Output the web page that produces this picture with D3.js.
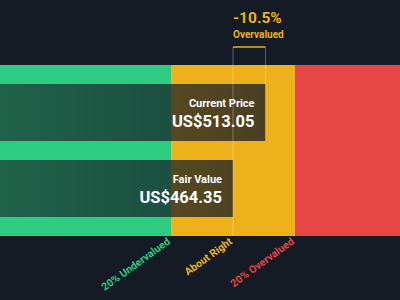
<!DOCTYPE html>
<html>
<head>
<meta charset="utf-8">
<script src="https://cdn.jsdelivr.net/npm/d3@7"></script>
<style>
  html, body { margin: 0; padding: 0; background: #151b24; }
  svg { display: block; font-family: Roboto, "DejaVu Sans", sans-serif; }
</style>
</head>
<body>
<script>
var w = 400;
var h = 300;

var barNames = ["Current Price", "Fair Value"];
var barValues = [513.05, 464.35];
var barLabels = ["US$513.05", "US$464.35"];

var zoneNames = ["20% Undervalued", "About Right", "20% Overvalued"];
var zoneColors = ["#2ecb82", "#edb11c", "#e64646"];
var diffLabel = "-10.5%";
var diffText = "Overvalued";

var fair = barValues[1];
var current = barValues[0];
var zoneEdges = [0, fair * 0.8, fair * 1.2, fair * 2];

var x = d3.scaleLinear().domain([0, fair * 1.2]).range([-77, 295]);
var y = d3.scaleBand().domain(barNames).range([65, 236]).paddingInner(0.25).paddingOuter(0.25);

var svg = d3.select("body")
      .append("svg")
      .attr("width", w)
      .attr("height", h);

var grad = svg.append("defs").append("linearGradient")
   .attr("id", "barGrad")
   .attr("gradientUnits", "userSpaceOnUse")
   .attr("x1", 0).attr("x2", 300).attr("y1", 0).attr("y2", 0);
grad.append("stop").attr("offset", "0%").attr("stop-color", "#151b24").attr("stop-opacity", 0.6);
grad.append("stop").attr("offset", "100%").attr("stop-color", "#151b24").attr("stop-opacity", 0.78);

// zone bands
svg.selectAll("rect.zone")
   .data(zoneColors)
   .enter()
   .append("rect")
   .attr("class", "zone")
   .attr("x", function(d, i) { return Math.max(0, x(zoneEdges[i])); })
   .attr("y", y.range()[0])
   .attr("width", function(d, i) { return Math.min(w, x(zoneEdges[i + 1])) - Math.max(0, x(zoneEdges[i])); })
   .attr("height", y.range()[1] - y.range()[0])
   .attr("fill", function(d) { return d; });

// value bars
svg.selectAll("rect.bar")
   .data(barValues)
   .enter()
   .append("rect")
   .attr("class", "bar")
   .attr("x", 0)
   .attr("y", function(d, i) { return y(barNames[i]); })
   .attr("width", function(d) { return x(d); })
   .attr("height", y.bandwidth())
   .attr("fill", "url(#barGrad)");

// marker lines
svg.append("line")
   .attr("x1", x(fair)).attr("x2", x(fair))
   .attr("y1", 47).attr("y2", y.range()[1])
   .attr("stroke", "rgba(255,255,255,0.3)")
   .attr("stroke-width", 1);
svg.append("line")
   .attr("x1", x(current)).attr("x2", x(current))
   .attr("y1", 47).attr("y2", y(barNames[0]) + y.bandwidth())
   .attr("stroke", "rgba(255,255,255,0.3)")
   .attr("stroke-width", 1);
svg.append("line")
   .attr("x1", x(fair)).attr("x2", x(current))
   .attr("y1", 47).attr("y2", 47)
   .attr("stroke", "#edb11c")
   .attr("stroke-width", 1.5);

svg.append("text")
   .text(diffLabel)
   .attr("x", x(fair))
   .attr("y", 23)
   .attr("font-size", "15.5px")
   .attr("font-weight", "bold")
   .attr("fill", "#edb11c");
svg.append("text")
   .text(diffText)
   .attr("x", x(fair))
   .attr("y", 38)
   .attr("font-size", "10px")
   .attr("font-weight", "bold")
   .attr("fill", "#edb11c");

// bar labels
svg.selectAll("text.name")
   .data(barNames)
   .enter()
   .append("text")
   .attr("class", "name")
   .text(function(d) { return d; })
   .attr("x", function(d, i) { return x(barValues[i]) - 11; })
   .attr("y", function(d) { return y(d) + 22.5; })
   .attr("text-anchor", "end")
   .attr("font-size", "11px")
   .attr("font-weight", "bold")
   .attr("fill", "white");

svg.selectAll("text.value")
   .data(barLabels)
   .enter()
   .append("text")
   .attr("class", "value")
   .text(function(d) { return d; })
   .attr("x", function(d, i) { return x(barValues[i]) - 11; })
   .attr("y", function(d, i) { return y(barNames[i]) + 43; })
   .attr("text-anchor", "end")
   .attr("font-size", "16.5px")
   .attr("font-weight", "bold")
   .attr("fill", "white");

// zone labels
svg.selectAll("text.zone")
   .data(zoneNames)
   .enter()
   .append("text")
   .attr("class", "zone")
   .text(function(d) { return d; })
   .attr("transform", function(d, i) {
      var xx = [x(zoneEdges[1]), x(fair), x(zoneEdges[2])][i];
      return "translate(" + xx + ",243) rotate(-36)";
   })
   .attr("text-anchor", "end")
   .attr("font-size", "10.5px")
   .attr("font-weight", "bold")
   .attr("fill", function(d, i) { return zoneColors[i]; });
</script>
</body>
</html>
